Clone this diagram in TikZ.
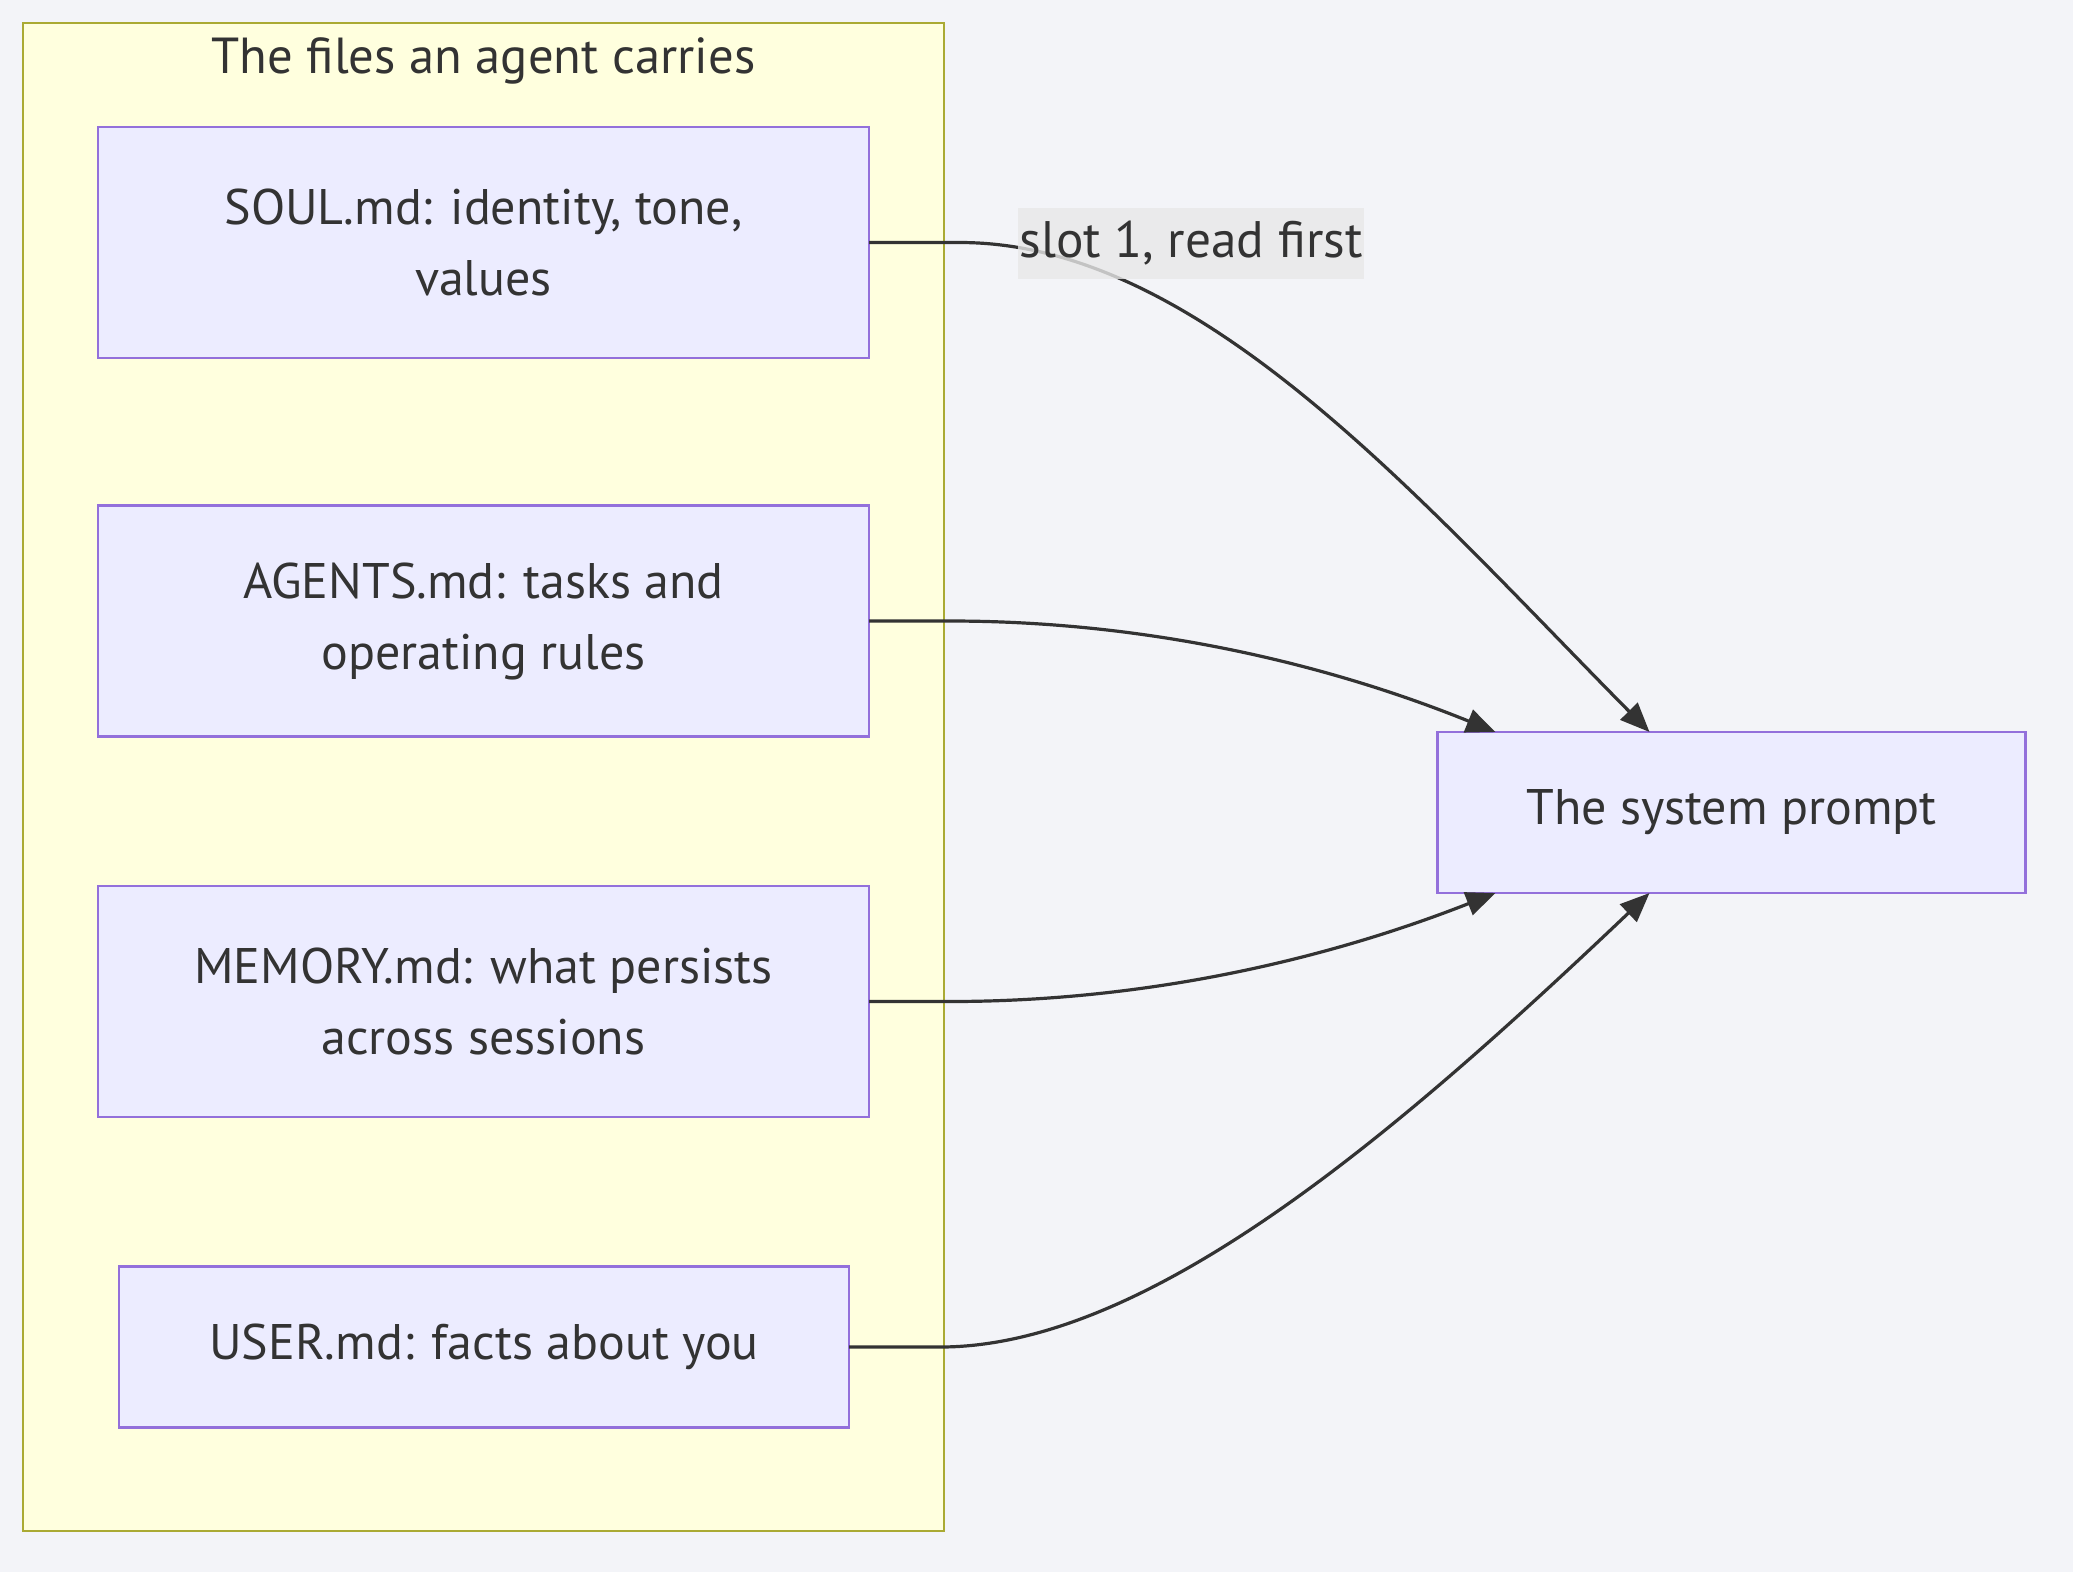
\documentclass[tikz,border=0pt]{standalone}
\usepackage{fontspec}
\setmainfont{PT Sans}
\usetikzlibrary{arrows.meta}
\definecolor{bgc}{HTML}{F3F4F8}
\definecolor{clfill}{HTML}{FFFFDE}
\definecolor{clline}{HTML}{AAAA33}
\definecolor{ndfill}{HTML}{ECECFF}
\definecolor{ndline}{HTML}{9370DB}
\definecolor{txt}{HTML}{333333}
\definecolor{lblbg}{HTML}{E8E8E8}
\tikzset{
  filebox/.style={draw=ndline, fill=ndfill, line width=2.2pt, inner sep=0pt, outer sep=0pt,
    text=txt, align=center, font=\fontsize{37.5pt}{53.25pt}\selectfont},
  clusterbox/.style={draw=clline, fill=clfill, line width=2.2pt, inner sep=0pt, outer sep=0pt},
  flow/.style={draw=txt, line width=2.4pt, -{Triangle[length=22pt,width=18pt]}},
  edgelabel/.style={fill=lblbg, fill opacity=0.8, text opacity=1, text=txt, inner sep=0pt,
    minimum width=259.5pt, minimum height=53.25pt, font=\fontsize{38.5pt}{45pt}\selectfont},
}
\begin{document}
\begin{tikzpicture}[x=0.75pt,y=-0.75pt]
\useasboundingbox[fill=bgc] (0,0) rectangle (2073,1572);
\node[clusterbox, minimum width=690.75pt, minimum height=1131pt] (cluster) at (483.5,777) {};
\node[text=txt, anchor=base, font=\fontsize{38pt}{45pt}\selectfont] (title) at (483.5,73) {The files an agent carries};
\node[filebox, minimum width=578.25pt, minimum height=173.25pt] (soul) at (483.5,242.5) {SOUL.md: identity, tone,\\values};
\node[filebox, minimum width=578.25pt, minimum height=173.25pt] (agents) at (483.5,621) {AGENTS.md: tasks and\\operating rules};
\node[filebox, minimum width=578.25pt, minimum height=173.25pt] (memory) at (483.5,1001.5) {MEMORY.md: what persists\\across sessions};
\node[filebox, minimum width=547.5pt, minimum height=120.75pt] (user) at (484,1347) {USER.md: facts about you};
\node[filebox, minimum width=441pt, minimum height=120.75pt] (sys) at (1731.5,812.5) {The system prompt};
\coordinate (tA) at ([xshift=159pt]sys.north west);
\coordinate (tB) at ([xshift=43.5pt]sys.north west);
\coordinate (tC) at ([xshift=43.5pt]sys.south west);
\coordinate (tD) at ([xshift=159pt]sys.south west);
\draw[flow] (soul.east) -- (960,242.5) .. controls (1200,242.5) and (1420,500) .. (tA);
\draw[flow] (agents.east) -- (950,621) .. controls (1150,621) and (1330,665) .. (tB);
\draw[flow] (memory.east) -- (950,1001.5) .. controls (1150,1001.5) and (1330,958) .. (tC);
\draw[flow] (user.east) -- (940,1347) .. controls (1150,1347) and (1400,1130) .. (tD);
\node[edgelabel] (lbl) at (1191,243.5) {slot 1, read first};
\end{tikzpicture}
\end{document}
